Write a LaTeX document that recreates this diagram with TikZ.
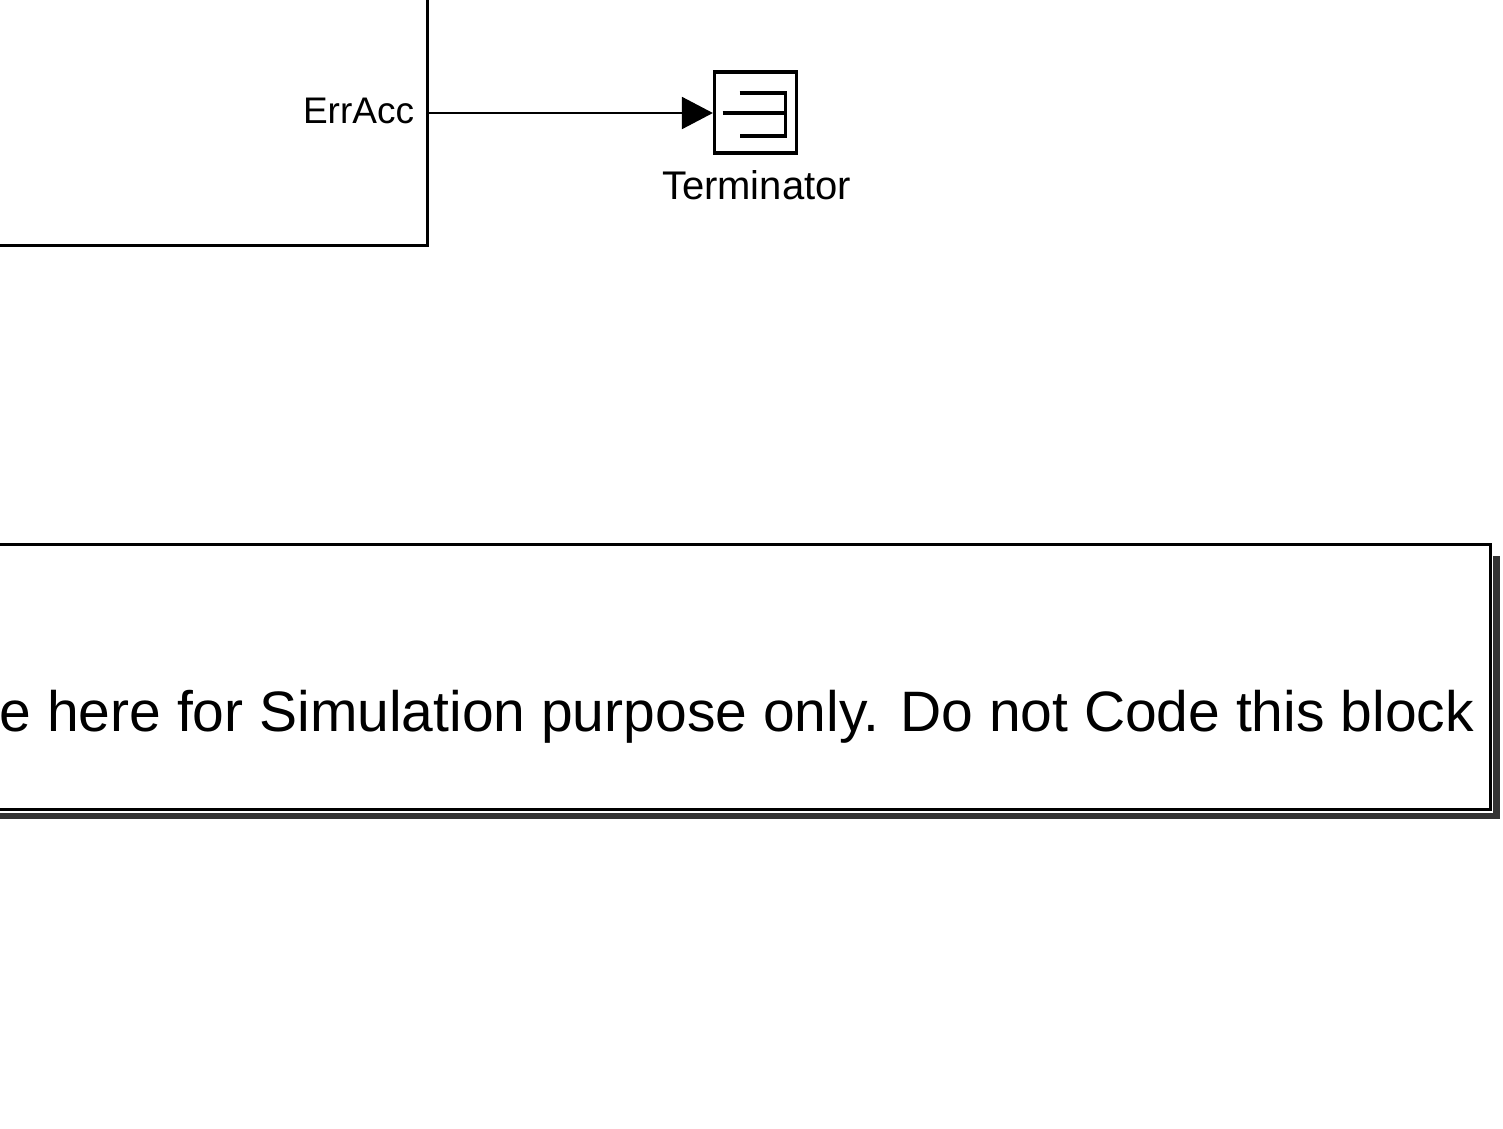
\documentclass[tikz,border=0pt]{standalone}
\usepackage{fontspec}
\setmainfont{Liberation Sans}
\usetikzlibrary{arrows.meta}
\definecolor{shadowgray}{HTML}{333333}
\tikzset{
  blockline/.style={draw=black, line width=3pt},
  termbox/.style={draw=black, line width=3.2pt, minimum width=82pt, minimum height=81pt, inner sep=0pt, fill=white},
  termglyph/.style={draw=black, line width=3.2pt},
  sigline/.style={draw=black, line width=2pt, -{Triangle[length=31pt,width=32pt]}},
  lbl/.style={inner sep=0pt, outer sep=0pt},
}
\begin{document}
\begin{tikzpicture}[x=1pt,y=-1pt]
\useasboundingbox (0,0) rectangle (1503,1128);
% subsystem block (partly outside the view)
\node[blockline, inner sep=0pt, minimum width=530pt, minimum height=350pt, anchor=south east] (blk) at (428.5,246.5) {};
\node[lbl, anchor=base east, font=\fontsize{37}{42}\selectfont] (errlbl) at (414,123) {ErrAcc};
\coordinate (errport) at (428.5,113);
% terminator
\node[termbox] (term) at (755.5,112.5) {};
\draw[termglyph] ([xshift=-33pt,yshift=-0.5pt]term.center) -- ([xshift=30pt,yshift=-0.5pt]term.center);
\draw[termglyph] ([xshift=-16pt,yshift=19.5pt]term.center) -- ([xshift=30pt,yshift=19.5pt]term.center)
                 -- ([xshift=30pt,yshift=-23.5pt]term.center) -- ([xshift=-16pt,yshift=-23.5pt]term.center);
\node[lbl, anchor=base, font=\fontsize{40}{44}\selectfont] (termlbl) at (756.5,199) {Terminator};
\draw[sigline] (errport) -- (errport -| term.west);
% annotation with shadow
\fill[shadowgray] (-60,556) rectangle (1500,819);
\fill[white] (-60,543) rectangle (1493,813);
\node[draw=black, line width=3pt, fill=white, inner sep=0pt, minimum width=1561.5pt, minimum height=265pt, anchor=south east] (note) at (1491.5,810.5) {};
\node[lbl, anchor=base east, font=\fontsize{57}{62}\selectfont] (notetext) at (1474,731) {e here for Simulation purpose only. Do not Code this block};
\end{tikzpicture}
\end{document}
